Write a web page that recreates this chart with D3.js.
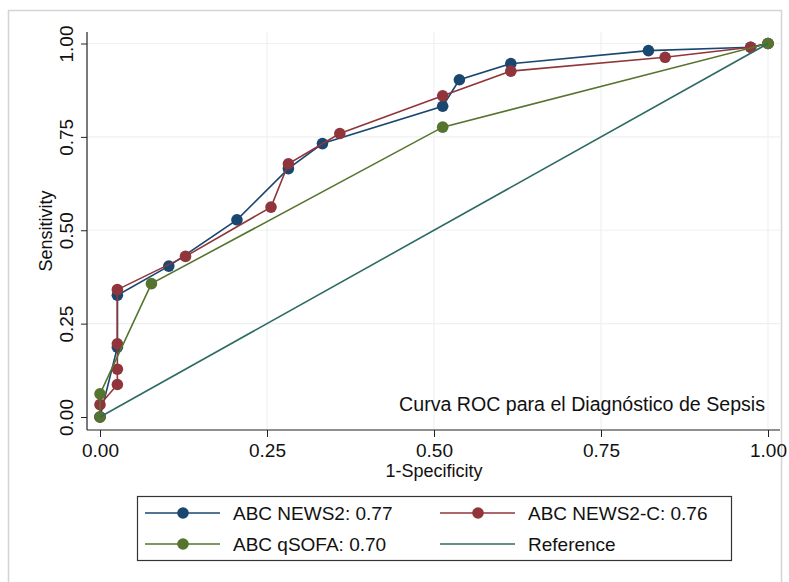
<!DOCTYPE html>
<html>
<head>
<meta charset="utf-8">
<script src="https://cdn.jsdelivr.net/npm/d3@7"></script>
<style>
  body { margin: 0; background: #fff; }
  svg text { font-family: "Liberation Sans", Arial, sans-serif; fill: #111; }
</style>
</head>
<body>
<div id="chart"></div>
<script>
// ROC points (1-specificity, sensitivity)
const news2X  = [0, 0.026, 0.026, 0.103, 0.205, 0.282, 0.333, 0.513, 0.538, 0.615, 0.821, 0.974, 1];
const news2Y  = [0, 0.187, 0.326, 0.404, 0.528, 0.665, 0.732, 0.832, 0.903, 0.946, 0.981, 0.990, 1];
const news2cX = [0, 0, 0.026, 0.026, 0.026, 0.026, 0.128, 0.256, 0.282, 0.359, 0.513, 0.615, 0.846, 0.974, 1];
const news2cY = [0, 0.033, 0.087, 0.128, 0.196, 0.341, 0.430, 0.562, 0.678, 0.759, 0.860, 0.926, 0.963, 0.990, 1];
const qsofaX  = [0, 0, 0.077, 0.513, 1];
const qsofaY  = [0, 0.062, 0.357, 0.776, 1];
const refX = [0, 1];
const refY = [0, 1];

const seriesNames = ["ABC NEWS2: 0.77", "ABC NEWS2-C: 0.76", "ABC qSOFA: 0.70", "Reference"];
const xTicks = [0, 0.25, 0.5, 0.75, 1];
const yTicks = [0, 0.25, 0.5, 0.75, 1];

const W = 789, H = 582;
const plot = {left: 87, right: 780, top: 32, bottom: 430};
const fontSize = 19;

const svg = d3.select("#chart").append("svg")
  .attr("width", W).attr("height", H);

// outer graph frame
svg.append("rect")
  .attr("x", 8.5).attr("y", 10.5)
  .attr("width", 773).attr("height", 600)
  .attr("fill", "none").attr("stroke", "#d4d4d4").attr("stroke-width", 1.5);

const x = d3.scaleLinear().domain([0, 1]).range([100, 768]);
const y = d3.scaleLinear().domain([0, 1]).range([417, 43.5]);

// faint grid
svg.append("g").selectAll("line").data(yTicks.filter(d => d > 0)).join("line")
  .attr("x1", plot.left).attr("x2", plot.right)
  .attr("y1", d => y(d)).attr("y2", d => y(d))
  .attr("stroke", "#eef0f2").attr("stroke-width", 1.2);
svg.append("g").selectAll("line").data(xTicks.filter(d => d > 0)).join("line")
  .attr("y1", plot.top).attr("y2", plot.bottom)
  .attr("x1", d => x(d)).attr("x2", d => x(d))
  .attr("stroke", "#eef0f2").attr("stroke-width", 1.2);

// axes
const xAxis = svg.append("g")
  .attr("transform", `translate(0,${plot.bottom})`)
  .call(d3.axisBottom(x).tickValues(xTicks).tickFormat(d3.format(".2f")).tickSize(7).tickSizeOuter(0));
xAxis.select(".domain").remove();
xAxis.selectAll("line").attr("stroke", "#222");
xAxis.selectAll("text").attr("font-size", fontSize).attr("dy", 0).attr("y", 27);

const yAxis = svg.append("g")
  .attr("transform", `translate(${plot.left},0)`)
  .call(d3.axisLeft(y).tickValues(yTicks).tickFormat(d3.format(".2f")).tickSize(6).tickSizeOuter(0));
yAxis.select(".domain").remove();
yAxis.selectAll("line").attr("stroke", "#222");
yAxis.selectAll("text")
  .attr("font-size", fontSize)
  .attr("x", 0).attr("dy", 0)
  .attr("text-anchor", "middle")
  .attr("transform", "translate(-14,0) rotate(-90)");

svg.append("line")
  .attr("x1", plot.left).attr("x2", plot.left)
  .attr("y1", plot.top).attr("y2", plot.bottom)
  .attr("stroke", "#222").attr("stroke-width", 1.2);
svg.append("line")
  .attr("x1", plot.left).attr("x2", plot.right)
  .attr("y1", plot.bottom).attr("y2", plot.bottom)
  .attr("stroke", "#222").attr("stroke-width", 1.2);

// axis titles
svg.append("text")
  .attr("x", x(0.5)).attr("y", 477)
  .attr("text-anchor", "middle").attr("font-size", 18)
  .text("1-Specificity");
svg.append("text")
  .attr("transform", `translate(52,${(plot.top + plot.bottom) / 2}) rotate(-90)`)
  .attr("text-anchor", "middle").attr("font-size", 18)
  .text("Sensitivity");

// curves
const colors = ["#1a476f", "#90353b", "#55752f", "#2e6b63"];
const series = [
  {xs: news2X, ys: news2Y, color: colors[0], markers: true},
  {xs: news2cX, ys: news2cY, color: colors[1], markers: true},
  {xs: qsofaX, ys: qsofaY, color: colors[2], markers: true},
  {xs: refX, ys: refY, color: colors[3], markers: false}
];

const line = d3.line().x(d => x(d[0])).y(d => y(d[1]));

series.forEach(s => {
  const pts = s.xs.map((v, i) => [v, s.ys[i]]);
  svg.append("path")
    .datum(pts)
    .attr("d", line)
    .attr("fill", "none")
    .attr("stroke", s.color)
    .attr("stroke-width", 1.6);
  if (s.markers) {
    svg.append("g").selectAll("circle").data(pts).join("circle")
      .attr("cx", d => x(d[0])).attr("cy", d => y(d[1]))
      .attr("r", 5.8)
      .attr("fill", s.color);
  }
});

// note inside plot
svg.append("text")
  .attr("x", 765).attr("y", 411)
  .attr("text-anchor", "end").attr("font-size", 19.6)
  .text("Curva ROC para el Diagnóstico de Sepsis");

// legend
const legend = svg.append("g");
legend.append("rect")
  .attr("x", 137.5).attr("y", 496.5)
  .attr("width", 594).attr("height", 64)
  .attr("fill", "#fff").attr("stroke", "#333").attr("stroke-width", 1.2);

const cols = [145, 440];
const rows = [513, 544];
series.forEach((s, i) => {
  const lx = cols[i % 2], ly = rows[Math.floor(i / 2)];
  legend.append("line")
    .attr("x1", lx).attr("x2", lx + 75)
    .attr("y1", ly).attr("y2", ly)
    .attr("stroke", s.color).attr("stroke-width", 1.6);
  if (s.markers) {
    legend.append("circle")
      .attr("cx", lx + 38).attr("cy", ly).attr("r", 5.8)
      .attr("fill", s.color);
  }
  legend.append("text")
    .attr("x", lx + 88).attr("y", ly + 7)
    .attr("font-size", fontSize)
    .text(seriesNames[i]);
});
</script>
</body>
</html>
